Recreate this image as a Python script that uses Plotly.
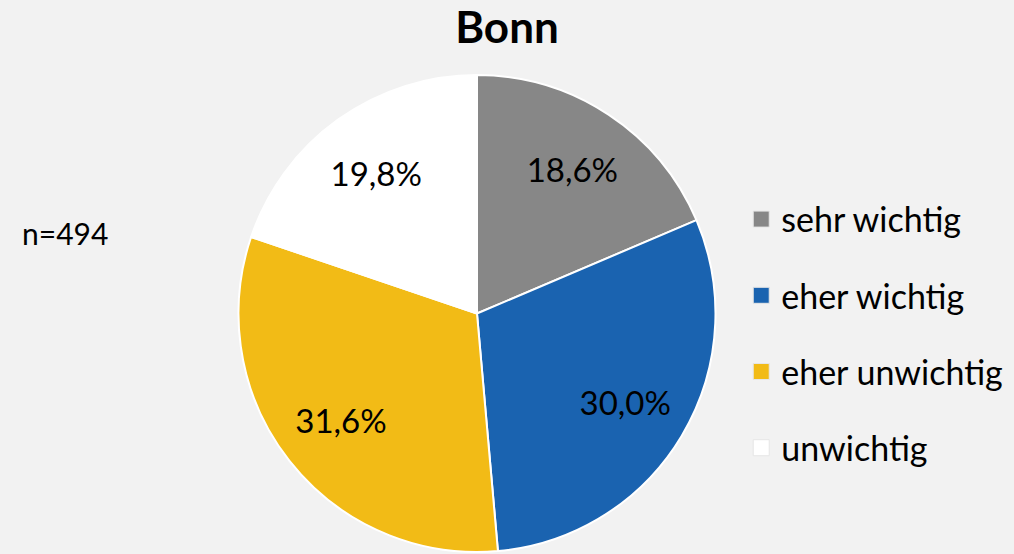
import plotly.graph_objects as go

categories = ["sehr wichtig", "eher wichtig", "eher unwichtig", "unwichtig"]
values = [18.6, 30.0, 31.6, 19.8]
colors = ["#878787", "#1a63b0", "#f2bb16", "#ffffff"]
title_text = "Bonn"
note_text = "n=494"

FONT = "Lato, 'Open Sans', sans-serif"
DOMAIN = dict(x=[0.2347, 0.7061], y=[0.0036, 0.8646])

fig = go.Figure()
# filled pie
fig.add_trace(go.Pie(
    labels=categories,
    values=values,
    sort=False,
    direction="clockwise",
    rotation=0,
    marker=dict(colors=colors, line=dict(color="#ffffff", width=2)),
    textinfo="none",
    showlegend=False,
    hoverinfo="label+percent",
    domain=DOMAIN,
))
# transparent ring on top that carries the percentage labels further out
fig.add_trace(go.Pie(
    labels=categories,
    values=values,
    sort=False,
    direction="clockwise",
    rotation=0,
    hole=0.45,
    marker=dict(colors=["rgba(0,0,0,0)"] * len(values), line=dict(width=0)),
    texttemplate="%{percent:.1%}",
    textposition="inside",
    insidetextorientation="horizontal",
    textfont=dict(family=FONT, size=33, color="#000000"),
    showlegend=False,
    hoverinfo="skip",
    domain=DOMAIN,
))

# Legend entries (one per category) spaced like the reference
for i, (cat, col) in enumerate(zip(categories, colors)):
    fig.add_trace(go.Scatter(
        x=[None], y=[None], mode="markers", name=cat,
        marker=dict(symbol="square", size=18, color=col,
                    line=dict(color="#e6e6e6", width=1)),
        legendgroup=f"g{i}", showlegend=True, hoverinfo="skip",
    ))

fig.update_layout(
    width=1014, height=554,
    paper_bgcolor="#f2f2f2", plot_bgcolor="#f2f2f2",
    margin=dict(l=0, r=0, t=0, b=0),
    separators=",.",
    title=dict(text=f"<b>{title_text}</b>", x=0.5, xanchor="center",
               y=0.95, yanchor="middle",
               font=dict(family=FONT, size=44, color="#000000")),
    xaxis=dict(visible=False), yaxis=dict(visible=False),
    legend=dict(x=0.731, xanchor="left", y=0.398, yanchor="middle",
                font=dict(family=FONT, size=34, color="#000000"),
                tracegroupgap=29, itemwidth=30,
                bgcolor="rgba(0,0,0,0)"),
    annotations=[dict(text=note_text, x=20 / 1014, y=0.58, xref="paper", yref="paper",
                      xanchor="left", yanchor="middle", showarrow=False,
                      font=dict(family=FONT, size=30, color="#000000"))],
)

fig.write_html("out.html", config={"displayModeBar": False},
               post_script="document.body.style.margin='0';")
